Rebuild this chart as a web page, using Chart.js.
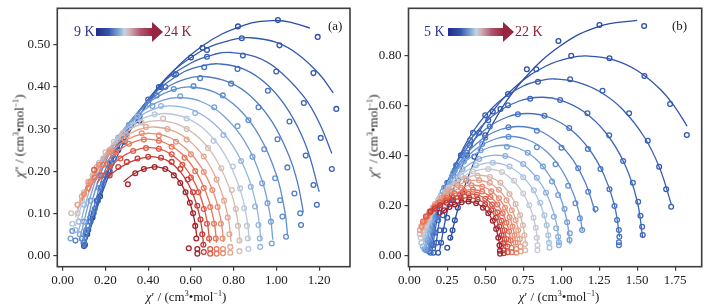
<!DOCTYPE html>
<html>
<head>
<meta charset="utf-8">
<script src="https://cdn.jsdelivr.net/npm/chart.js@4.4.1/dist/chart.umd.min.js"></script>
<style>
body { margin: 0; background: #fff; }
#wrap { position: relative; width: 711px; height: 308px; overflow: hidden; font-family: "Liberation Serif", "Times New Roman", serif; }
.panel { position: absolute; top: 0; height: 308px; }
.lbl { position: absolute; white-space: nowrap; font-size: 13px; color: #1a1a1a; line-height: 1; }
.ytitle { transform: translate(-50%, -50%) rotate(-90deg); }
.xtitle { transform: translate(-50%, -50%); }
.mid { transform: translate(0, -50%); }
sup { font-size: 8px; vertical-align: 5px; line-height: 0; }
.bar { position: absolute; height: 8px; background: linear-gradient(to right, #1d2d8c 0%, #3556a8 22%, #8eaed6 42%, #c4d3e6 50%, #d2aab3 60%, #b0566f 78%, #962540 100%); }
.head { position: absolute; width: 0; height: 0; border-top: 10px solid transparent; border-bottom: 10px solid transparent; border-left: 11px solid #962540; }
</style>
</head>
<body>
<div id="wrap">
  <div class="panel" style="left:0; width:355px;"><canvas id="chartA"></canvas></div>
  <div class="panel" style="left:355px; width:356px;"><canvas id="chartB"></canvas></div>

  <div class="lbl ytitle" style="left:19px; top:136px;"><i>χ</i>″ / (cm<sup>3</sup>•mol<sup>−1</sup>)</div>
  <div class="lbl xtitle" style="left:186px; top:296px;"><i>χ</i>′ / (cm<sup>3</sup>•mol<sup>−1</sup>)</div>
  <div class="lbl ytitle" style="left:373px; top:136px;"><i>χ</i>″ / (cm<sup>3</sup>•mol<sup>−1</sup>)</div>
  <div class="lbl xtitle" style="left:559px; top:296px;"><i>χ</i>′ / (cm<sup>3</sup>•mol<sup>−1</sup>)</div>

  <div class="lbl mid" style="left:74px; top:32px; font-size:14px; color:#2b3794;">9 K</div>
  <div class="bar" style="left:96px; top:28px; width:57px;"></div>
  <div class="head" style="left:152px; top:22px;"></div>
  <div class="lbl mid" style="left:164px; top:32px; font-size:14px; color:#8c2236;">24 K</div>
  <div class="lbl mid" style="left:328px; top:25px;">(a)</div>

  <div class="lbl mid" style="left:424px; top:32px; font-size:14px; color:#2b3794;">5 K</div>
  <div class="bar" style="left:448px; top:28px; width:56px;"></div>
  <div class="head" style="left:503px; top:22px;"></div>
  <div class="lbl mid" style="left:515px; top:32px; font-size:14px; color:#8c2236;">22 K</div>
  <div class="lbl mid" style="left:672px; top:25px;">(b)</div>
</div>

<script>
// temperatures of each curve
const tempsA = [9, 10, 11, 12, 13, 14, 15, 16, 17, 18, 19, 20, 21, 22, 23, 24];
const tempsB = [5, 6, 7, 8, 9, 10, 11, 12, 13, 14, 15, 16, 17, 18, 19, 20, 21, 22];

// axis ticks
const xTicksA = [0, 0.2, 0.4, 0.6, 0.8, 1.0, 1.2];
const yTicksA = [0, 0.1, 0.2, 0.3, 0.4, 0.5];
const xTicksB = [0, 0.25, 0.5, 0.75, 1.0, 1.25, 1.5, 1.75];
const yTicksB = [0, 0.2, 0.4, 0.6, 0.8];

// measured points (chi', chi''), panel (a)
const ptsA = [
  [[0.10,0.022],[0.115,0.05],[0.14,0.09],[0.175,0.14],[0.22,0.20],[0.29,0.27],[0.36,0.32],[0.46,0.40],[0.60,0.47],[0.654,0.493],[0.82,0.544],[1.007,0.559],[1.193,0.519]],
  [[0.098,0.03],[0.11,0.055],[0.13,0.09],[0.16,0.13],[0.20,0.19],[0.26,0.25],[0.34,0.32],[0.45,0.40],[0.53,0.43],[0.675,0.488],[0.838,0.516],[1.014,0.499],[1.173,0.433],[1.28,0.348]],
  [[0.105,0.025],[0.12,0.06],[0.145,0.10],[0.18,0.16],[0.23,0.22],[0.30,0.29],[0.40,0.37],[0.52,0.43],[0.675,0.472],[0.843,0.475],[0.999,0.437],[1.128,0.362],[1.207,0.279],[1.259,0.205]],
  [[0.09,0.04],[0.11,0.05],[0.13,0.08],[0.165,0.13],[0.21,0.19],[0.28,0.27],[0.36,0.33],[0.48,0.40],[0.662,0.447],[0.818,0.443],[0.96,0.391],[1.061,0.318],[1.137,0.237],[1.173,0.167],[1.189,0.12]],
  [[0.06,0.035],[0.10,0.03],[0.12,0.07],[0.15,0.11],[0.19,0.17],[0.24,0.23],[0.32,0.31],[0.44,0.38],[0.643,0.421],[0.788,0.408],[0.916,0.352],[1.005,0.276],[1.051,0.209],[1.084,0.147],[1.111,0.10],[1.115,0.072]],
  [[0.045,0.058],[0.09,0.04],[0.11,0.06],[0.135,0.10],[0.17,0.16],[0.22,0.22],[0.29,0.29],[0.40,0.36],[0.52,0.395],[0.612,0.402],[0.749,0.38],[0.869,0.321],[0.943,0.252],[0.994,0.183],[1.017,0.131],[1.028,0.092],[1.045,0.044]],
  [[0.037,0.04],[0.08,0.05],[0.10,0.08],[0.13,0.13],[0.17,0.19],[0.23,0.25],[0.31,0.31],[0.42,0.355],[0.55,0.378],[0.709,0.352],[0.818,0.307],[0.888,0.234],[0.933,0.171],[0.958,0.124],[0.974,0.08],[0.978,0.028]],
  [[0.06,0.06],[0.075,0.08],[0.10,0.12],[0.14,0.18],[0.19,0.23],[0.26,0.28],[0.35,0.33],[0.46,0.355],[0.62,0.338],[0.752,0.286],[0.835,0.224],[0.88,0.163],[0.90,0.116],[0.916,0.072],[0.922,0.04],[0.924,0.02]],
  [[0.045,0.075],[0.07,0.10],[0.09,0.13],[0.12,0.17],[0.17,0.22],[0.24,0.27],[0.33,0.31],[0.43,0.335],[0.58,0.325],[0.706,0.272],[0.796,0.211],[0.83,0.159],[0.849,0.112],[0.862,0.07],[0.866,0.04],[0.869,0.015]],
  [[0.04,0.10],[0.07,0.12],[0.10,0.15],[0.14,0.19],[0.20,0.245],[0.28,0.29],[0.37,0.315],[0.47,0.325],[0.58,0.30],[0.68,0.255],[0.742,0.207],[0.791,0.155],[0.81,0.11],[0.82,0.07],[0.827,0.035],[0.827,0.01]],
  [[0.07,0.12],[0.09,0.14],[0.12,0.175],[0.16,0.21],[0.22,0.25],[0.30,0.285],[0.39,0.305],[0.49,0.30],[0.58,0.275],[0.66,0.235],[0.72,0.18],[0.755,0.13],[0.772,0.09],[0.78,0.05],[0.784,0.02],[0.784,0.006]],
  [[0.10,0.145],[0.13,0.175],[0.17,0.215],[0.22,0.245],[0.29,0.275],[0.37,0.29],[0.45,0.285],[0.53,0.27],[0.60,0.24],[0.66,0.198],[0.70,0.155],[0.725,0.115],[0.74,0.075],[0.748,0.04],[0.75,0.015],[0.75,0.005]],
  [[0.12,0.16],[0.15,0.185],[0.19,0.215],[0.25,0.245],[0.31,0.265],[0.38,0.275],[0.45,0.272],[0.51,0.258],[0.57,0.232],[0.62,0.20],[0.66,0.16],[0.69,0.115],[0.708,0.075],[0.716,0.04],[0.72,0.015],[0.72,0.004]],
  [[0.147,0.203],[0.18,0.19],[0.22,0.21],[0.27,0.23],[0.33,0.248],[0.39,0.255],[0.45,0.253],[0.51,0.24],[0.56,0.215],[0.60,0.185],[0.635,0.15],[0.66,0.11],[0.675,0.075],[0.685,0.04],[0.69,0.015],[0.69,0.004]],
  [[0.22,0.19],[0.26,0.21],[0.30,0.222],[0.35,0.23],[0.40,0.234],[0.46,0.232],[0.51,0.222],[0.55,0.205],[0.585,0.18],[0.61,0.15],[0.63,0.118],[0.645,0.085],[0.653,0.05],[0.658,0.025],[0.66,0.008]],
  [[0.305,0.169],[0.34,0.195],[0.38,0.205],[0.43,0.21],[0.48,0.205],[0.52,0.19],[0.55,0.172],[0.575,0.15],[0.595,0.125],[0.61,0.10],[0.62,0.07],[0.59,0.017],[0.625,0.04],[0.63,0.015],[0.63,0.004]]
];

// fitted curves, panel (a)
const fitA = [
  [[0.10,0.02],[0.25,0.23],[0.45,0.397],[0.65,0.496],[0.85,0.547],[1.0,0.558],[1.08,0.552],[1.157,0.54]],
  [[0.10,0.02],[0.25,0.243],[0.45,0.402],[0.65,0.486],[0.80,0.513],[0.88,0.517],[1.0,0.506],[1.1,0.478],[1.2,0.431],[1.266,0.386]],
  [[0.10,0.02],[0.25,0.251],[0.45,0.40],[0.60,0.457],[0.72,0.479],[0.79,0.482],[0.9,0.472],[1.0,0.444],[1.128,0.377],[1.2,0.315],[1.259,0.242]],
  [[0.10,0.02],[0.25,0.254],[0.40,0.369],[0.55,0.431],[0.66,0.451],[0.73,0.455],[0.85,0.442],[0.96,0.404],[1.06,0.341],[1.14,0.258],[1.2,0.151]],
  [[0.10,0.02],[0.20,0.204],[0.32,0.317],[0.45,0.386],[0.57,0.418],[0.66,0.425],[0.78,0.411],[0.88,0.378],[0.98,0.317],[1.06,0.235],[1.1,0.17],[1.126,0.102]],
  [[0.09,0.03],[0.18,0.197],[0.30,0.308],[0.42,0.369],[0.52,0.394],[0.60,0.40],[0.71,0.388],[0.82,0.35],[0.92,0.284],[1.0,0.191],[1.04,0.102],[1.052,0.047]],
  [[0.08,0.04],[0.16,0.186],[0.27,0.289],[0.38,0.345],[0.47,0.369],[0.55,0.375],[0.65,0.365],[0.75,0.333],[0.85,0.272],[0.93,0.182],[0.97,0.097],[0.983,0.037]],
  [[0.07,0.05],[0.14,0.175],[0.24,0.27],[0.35,0.327],[0.44,0.35],[0.51,0.355],[0.61,0.345],[0.71,0.312],[0.80,0.257],[0.87,0.183],[0.91,0.108],[0.928,0.036]],
  [[0.06,0.07],[0.12,0.166],[0.21,0.25],[0.31,0.305],[0.40,0.33],[0.48,0.337],[0.58,0.326],[0.67,0.296],[0.76,0.238],[0.83,0.156],[0.862,0.086],[0.873,0.034]],
  [[0.06,0.09],[0.11,0.162],[0.19,0.236],[0.28,0.286],[0.37,0.313],[0.45,0.32],[0.55,0.309],[0.64,0.278],[0.72,0.226],[0.79,0.146],[0.82,0.079],[0.83,0.032]],
  [[0.07,0.11],[0.12,0.173],[0.19,0.232],[0.27,0.274],[0.35,0.298],[0.43,0.305],[0.52,0.295],[0.60,0.269],[0.68,0.22],[0.74,0.155],[0.775,0.087],[0.788,0.032]],
  [[0.09,0.13],[0.14,0.185],[0.20,0.23],[0.27,0.265],[0.34,0.284],[0.41,0.29],[0.50,0.28],[0.58,0.252],[0.65,0.208],[0.71,0.143],[0.74,0.084],[0.753,0.032]],
  [[0.12,0.15],[0.16,0.189],[0.22,0.23],[0.28,0.256],[0.34,0.271],[0.40,0.276],[0.48,0.267],[0.56,0.24],[0.63,0.193],[0.68,0.136],[0.71,0.075],[0.72,0.03]],
  [[0.16,0.17],[0.20,0.198],[0.25,0.223],[0.30,0.241],[0.36,0.253],[0.411,0.256],[0.48,0.248],[0.55,0.222],[0.61,0.18],[0.65,0.132],[0.675,0.083],[0.688,0.03]],
  [[0.21,0.185],[0.25,0.202],[0.30,0.218],[0.35,0.228],[0.39,0.233],[0.427,0.234],[0.49,0.225],[0.55,0.199],[0.60,0.157],[0.635,0.105],[0.652,0.061],[0.659,0.021]],
  [[0.285,0.175],[0.32,0.189],[0.36,0.201],[0.40,0.208],[0.443,0.21],[0.50,0.20],[0.55,0.173],[0.59,0.132],[0.615,0.087],[0.628,0.043]]
];

// measured points, panel (b)
const ptsB = [
  [[0.25,0.03],[0.27,0.07],[0.285,0.10],[0.30,0.14],[0.32,0.19],[0.35,0.25],[0.375,0.30],[0.428,0.394],[0.50,0.48],[0.60,0.585],[0.774,0.744],[0.982,0.857],[1.252,0.921],[1.546,0.917]],
  [[0.19,0.01],[0.21,0.05],[0.23,0.10],[0.25,0.15],[0.28,0.22],[0.32,0.30],[0.38,0.40],[0.46,0.49],[0.55,0.575],[0.836,0.744],[1.066,0.798],[1.318,0.788],[1.548,0.717],[1.717,0.605],[1.827,0.481]],
  [[0.16,0.01],[0.18,0.05],[0.20,0.10],[0.22,0.16],[0.25,0.24],[0.29,0.32],[0.34,0.40],[0.42,0.49],[0.50,0.56],[0.65,0.645],[0.847,0.694],[1.059,0.704],[1.272,0.658],[1.447,0.568],[1.570,0.458],[1.645,0.354],[1.691,0.264],[1.724,0.194]],
  [[0.14,0.01],[0.155,0.04],[0.17,0.09],[0.19,0.14],[0.22,0.22],[0.26,0.29],[0.31,0.36],[0.40,0.46],[0.52,0.54],[0.65,0.60],[0.796,0.626],[0.993,0.621],[1.173,0.568],[1.316,0.48],[1.408,0.377],[1.472,0.29],[1.507,0.214],[1.522,0.158],[1.533,0.114],[1.537,0.081]],
  [[0.13,0.015],[0.145,0.04],[0.16,0.09],[0.18,0.15],[0.21,0.22],[0.25,0.29],[0.31,0.36],[0.40,0.44],[0.53,0.515],[0.715,0.564],[0.890,0.558],[1.053,0.509],[1.176,0.425],[1.259,0.345],[1.318,0.264],[1.351,0.197],[1.368,0.141],[1.38,0.101],[1.383,0.074],[1.38,0.052],[1.38,0.04]],
  [[0.12,0.02],[0.135,0.05],[0.15,0.10],[0.17,0.15],[0.20,0.21],[0.24,0.27],[0.30,0.34],[0.38,0.41],[0.50,0.47],[0.653,0.512],[0.84,0.498],[1.002,0.43],[1.112,0.348],[1.178,0.254],[1.226,0.185]],
  [[0.11,0.02],[0.125,0.06],[0.14,0.10],[0.16,0.15],[0.19,0.21],[0.23,0.27],[0.29,0.33],[0.37,0.395],[0.48,0.445],[0.653,0.474],[0.84,0.432],[0.963,0.364],[1.046,0.278],[1.094,0.208],[1.123,0.148],[1.138,0.101]],
  [[0.10,0.025],[0.115,0.06],[0.13,0.10],[0.15,0.145],[0.18,0.20],[0.22,0.255],[0.28,0.315],[0.36,0.375],[0.47,0.42],[0.643,0.434],[0.78,0.41],[0.88,0.355],[0.94,0.295],[0.98,0.241],[1.022,0.185],[1.039,0.132],[1.057,0.088],[1.055,0.061]],
  [[0.09,0.035],[0.105,0.07],[0.12,0.10],[0.14,0.14],[0.17,0.19],[0.21,0.24],[0.27,0.29],[0.35,0.345],[0.46,0.385],[0.632,0.397],[0.75,0.365],[0.84,0.31],[0.90,0.25],[0.952,0.154],[0.967,0.108],[0.98,0.074],[0.985,0.052],[0.985,0.04]],
  [[0.08,0.05],[0.095,0.08],[0.11,0.11],[0.13,0.14],[0.16,0.18],[0.20,0.225],[0.26,0.27],[0.34,0.32],[0.44,0.36],[0.55,0.37],[0.66,0.355],[0.75,0.312],[0.82,0.26],[0.862,0.21],[0.89,0.16],[0.905,0.12],[0.915,0.08],[0.92,0.05],[0.923,0.03]],
  [[0.075,0.07],[0.09,0.095],[0.11,0.12],[0.13,0.15],[0.16,0.19],[0.20,0.23],[0.26,0.27],[0.33,0.305],[0.42,0.335],[0.52,0.345],[0.61,0.333],[0.69,0.298],[0.75,0.247],[0.79,0.20],[0.818,0.15],[0.833,0.11],[0.84,0.07],[0.844,0.04],[0.844,0.02]],
  [[0.07,0.085],[0.085,0.11],[0.10,0.13],[0.125,0.16],[0.155,0.19],[0.19,0.22],[0.24,0.255],[0.30,0.285],[0.37,0.307],[0.45,0.318],[0.53,0.313],[0.60,0.29],[0.66,0.245],[0.70,0.205],[0.73,0.16],[0.748,0.12],[0.758,0.08],[0.763,0.045],[0.763,0.02]],
  [[0.07,0.10],[0.09,0.125],[0.11,0.145],[0.135,0.175],[0.17,0.205],[0.21,0.23],[0.26,0.257],[0.32,0.28],[0.39,0.295],[0.46,0.30],[0.53,0.29],[0.59,0.262],[0.64,0.22],[0.675,0.18],[0.70,0.14],[0.717,0.10],[0.727,0.065],[0.732,0.035],[0.733,0.015]],
  [[0.08,0.115],[0.10,0.135],[0.12,0.155],[0.15,0.18],[0.185,0.205],[0.23,0.232],[0.28,0.255],[0.34,0.27],[0.41,0.28],[0.48,0.274],[0.54,0.256],[0.59,0.228],[0.63,0.19],[0.66,0.152],[0.68,0.115],[0.693,0.08],[0.70,0.05],[0.704,0.025],[0.705,0.01]],
  [[0.09,0.135],[0.11,0.155],[0.135,0.175],[0.165,0.195],[0.20,0.212],[0.245,0.23],[0.30,0.247],[0.36,0.258],[0.42,0.262],[0.48,0.255],[0.535,0.233],[0.58,0.203],[0.615,0.168],[0.64,0.13],[0.657,0.095],[0.667,0.06],[0.673,0.03],[0.675,0.012]],
  [[0.11,0.155],[0.135,0.17],[0.165,0.185],[0.20,0.20],[0.24,0.218],[0.285,0.232],[0.335,0.241],[0.39,0.245],[0.445,0.242],[0.50,0.226],[0.545,0.203],[0.58,0.172],[0.607,0.138],[0.627,0.10],[0.64,0.065],[0.646,0.035],[0.648,0.012]],
  [[0.14,0.175],[0.17,0.188],[0.205,0.20],[0.245,0.21],[0.29,0.222],[0.34,0.228],[0.395,0.23],[0.45,0.223],[0.50,0.204],[0.54,0.18],[0.57,0.15],[0.593,0.115],[0.608,0.08],[0.617,0.048],[0.621,0.02],[0.622,0.008]],
  [[0.20,0.17],[0.23,0.18],[0.265,0.193],[0.30,0.203],[0.345,0.212],[0.39,0.215],[0.44,0.208],[0.485,0.19],[0.52,0.168],[0.55,0.138],[0.572,0.105],[0.586,0.07],[0.594,0.04],[0.597,0.018],[0.598,0.006]]
];

// fitted curves, panel (b)
const fitB = [
  [[0.27,0.06],[0.32,0.185],[0.40,0.333],[0.55,0.527],[0.75,0.702],[1.0,0.84],[1.25,0.916],[1.5,0.94]],
  [[0.20,0.02],[0.26,0.199],[0.35,0.36],[0.50,0.533],[0.70,0.675],[0.90,0.757],[1.05,0.789],[1.18,0.797],[1.35,0.781],[1.5,0.739],[1.65,0.665],[1.75,0.592],[1.829,0.516]],
  [[0.17,0.02],[0.22,0.206],[0.30,0.356],[0.42,0.495],[0.58,0.609],[0.75,0.677],[0.88,0.701],[0.96,0.705],[1.1,0.694],[1.25,0.656],[1.4,0.586],[1.55,0.47],[1.65,0.346],[1.724,0.205]],
  [[0.15,0.02],[0.20,0.191],[0.28,0.332],[0.40,0.46],[0.55,0.558],[0.72,0.616],[0.87,0.632],[1.0,0.62],[1.15,0.574],[1.3,0.485],[1.42,0.362],[1.5,0.217],[1.537,0.069]],
  [[0.14,0.02],[0.19,0.187],[0.26,0.306],[0.36,0.413],[0.50,0.503],[0.65,0.554],[0.78,0.567],[0.92,0.552],[1.06,0.504],[1.18,0.428],[1.28,0.324],[1.35,0.202],[1.385,0.072]],
  [[0.13,0.02],[0.18,0.175],[0.25,0.287],[0.35,0.387],[0.48,0.465],[0.60,0.503],[0.72,0.515],[0.85,0.50],[0.98,0.449],[1.08,0.379],[1.16,0.289],[1.226,0.17]],
  [[0.12,0.02],[0.17,0.167],[0.24,0.274],[0.33,0.36],[0.45,0.43],[0.57,0.466],[0.67,0.475],[0.78,0.462],[0.90,0.417],[1.0,0.345],[1.08,0.247],[1.12,0.165],[1.14,0.097]],
  [[0.11,0.025],[0.16,0.163],[0.23,0.264],[0.32,0.345],[0.43,0.404],[0.53,0.432],[0.62,0.44],[0.72,0.428],[0.83,0.387],[0.93,0.312],[1.0,0.222],[1.04,0.131],[1.058,0.044]],
  [[0.10,0.03],[0.15,0.152],[0.22,0.245],[0.30,0.314],[0.40,0.366],[0.50,0.394],[0.58,0.40],[0.68,0.388],[0.78,0.349],[0.87,0.283],[0.93,0.208],[0.97,0.124],[0.988,0.04]],
  [[0.09,0.04],[0.14,0.145],[0.21,0.231],[0.29,0.295],[0.38,0.339],[0.47,0.363],[0.55,0.37],[0.64,0.359],[0.73,0.325],[0.81,0.267],[0.87,0.193],[0.905,0.119],[0.922,0.047]],
  [[0.085,0.06],[0.13,0.141],[0.19,0.211],[0.27,0.274],[0.36,0.317],[0.44,0.338],[0.52,0.345],[0.60,0.335],[0.68,0.302],[0.75,0.247],[0.80,0.183],[0.83,0.119],[0.847,0.046]],
  [[0.08,0.08],[0.12,0.145],[0.18,0.21],[0.26,0.266],[0.34,0.30],[0.41,0.316],[0.47,0.32],[0.54,0.311],[0.61,0.283],[0.67,0.238],[0.72,0.177],[0.75,0.115],[0.767,0.045]],
  [[0.08,0.10],[0.12,0.152],[0.17,0.20],[0.24,0.247],[0.32,0.28],[0.39,0.296],[0.45,0.30],[0.52,0.291],[0.59,0.261],[0.65,0.214],[0.69,0.162],[0.715,0.11],[0.732,0.042]],
  [[0.09,0.12],[0.13,0.162],[0.18,0.202],[0.24,0.237],[0.31,0.263],[0.37,0.276],[0.43,0.28],[0.50,0.271],[0.56,0.247],[0.62,0.202],[0.66,0.154],[0.685,0.105],[0.702,0.041]],
  [[0.10,0.14],[0.14,0.172],[0.19,0.204],[0.25,0.231],[0.31,0.249],[0.37,0.259],[0.42,0.262],[0.48,0.255],[0.54,0.231],[0.59,0.195],[0.63,0.148],[0.655,0.101],[0.672,0.04]],
  [[0.12,0.16],[0.16,0.183],[0.21,0.206],[0.26,0.224],[0.31,0.236],[0.36,0.243],[0.41,0.245],[0.47,0.237],[0.53,0.212],[0.58,0.172],[0.615,0.125],[0.635,0.08],[0.646,0.031]],
  [[0.15,0.18],[0.19,0.195],[0.24,0.21],[0.29,0.221],[0.34,0.227],[0.40,0.23],[0.46,0.221],[0.51,0.20],[0.555,0.165],[0.59,0.119],[0.61,0.075],[0.62,0.031]],
  [[0.22,0.175],[0.26,0.192],[0.30,0.204],[0.35,0.213],[0.39,0.215],[0.45,0.206],[0.50,0.183],[0.54,0.149],[0.57,0.108],[0.588,0.066],[0.597,0.022]]
];

// colour of each temperature, cold to hot
const colorsA = ['#2b4ea6', '#3157ae', '#3961b7', '#426dbf', '#4e7cc7', '#5f8dcf', '#76a0d7', '#93b5df',
  '#b8c7da', '#d3bcb2', '#e3a690', '#ea8e73', '#e8755b', '#dd5846', '#c63c37', '#a5222b'];
const colorsB = ['#2a4ca5', '#2f54ad', '#355db4', '#3c67bc', '#4572c3', '#517fca', '#618fd1', '#749fd8', '#8cb0dd',
  '#a9c1df', '#c6c9d2', '#d8b6a9', '#e5a08a', '#eb8a70', '#e87259', '#dc5846', '#c53d37', '#a3222b'];

const fontFamily = '"Liberation Serif", "Times New Roman", serif';

const framePlugin = {
    id: 'frame',
    afterDatasetsDraw(chart) {
        const { ctx, chartArea } = chart;
        ctx.save();
        ctx.strokeStyle = '#3d3d3d';
        ctx.lineWidth = 1.6;
        ctx.strokeRect(chartArea.left, chartArea.top, chartArea.right - chartArea.left, chartArea.bottom - chartArea.top);
        ctx.restore();
    }
};

function toXY(list) {
    return list.map(p => ({ x: p[0], y: p[1] }));
}

function buildDatasets(temps, pts, fit, colors) {
    const datasets = [];
    const n = temps.length;
    temps.forEach((t, i) => {
        // hotter curves drawn on top
        datasets.push({
            label: t + ' K fit',
            data: toXY(fit[i]),
            showLine: true,
            pointRadius: 0,
            borderColor: colors[i],
            borderWidth: 1.3,
            tension: 0.4,
            order: n - i
        });
        datasets.push({
            label: t + ' K',
            data: toXY(pts[i]),
            showLine: false,
            pointRadius: 2.4,
            pointBorderWidth: 1.3,
            pointStyle: 'circle',
            borderColor: colors[i],
            backgroundColor: 'rgba(0,0,0,0)',
            order: n - i
        });
    });
    return datasets;
}

function makeAxis(min, max, ticks, isX, size) {
    return {
        type: 'linear',
        min: min,
        max: max,
        afterBuildTicks: axis => { axis.ticks = ticks.map(v => ({ value: v })); },
        afterFit: scale => {
            if (isX) scale.height = size; else scale.width = size;
            scale.paddingTop = 0; scale.paddingBottom = 0;
            scale.paddingLeft = 0; scale.paddingRight = 0;
        },
        ticks: {
            callback: v => v.toFixed(2),
            font: { family: fontFamily, size: 13 },
            color: '#1a1a1a',
            padding: isX ? 2 : 3,
            maxRotation: 0,
            autoSkip: false
        },
        grid: { drawOnChartArea: false, drawTicks: true, tickLength: 4, color: '#3d3d3d', lineWidth: 1.2 },
        border: { display: false }
    };
}

function createChart(canvasId, temps, pts, fit, colors, xr, yr, xTicks, yTicks, yWidth, padRight) {
    const ctx = document.getElementById(canvasId).getContext('2d');
    return new Chart(ctx, {
        type: 'scatter',
        data: { datasets: buildDatasets(temps, pts, fit, colors) },
        options: {
            responsive: true,
            maintainAspectRatio: false,
            animation: false,
            layout: { autoPadding: false, padding: { top: 8.3, right: padRight, bottom: 0, left: 0 } },
            plugins: { legend: { display: false }, tooltip: { enabled: false } },
            scales: {
                x: makeAxis(xr[0], xr[1], xTicks, true, 41.3),
                y: makeAxis(yr[0], yr[1], yTicks, false, yWidth)
            }
        },
        plugins: [framePlugin]
    });
}

createChart('chartA', tempsA, ptsA, fitA, colorsA, [-0.025, 1.344], [-0.027, 0.587], xTicksA, yTicksA, 57.3, 5);
createChart('chartB', tempsB, ptsB, fitB, colorsB, [-0.005, 1.925], [-0.046, 0.988], xTicksB, yTicksB, 53.5, 9.3);
</script>
</body>
</html>
